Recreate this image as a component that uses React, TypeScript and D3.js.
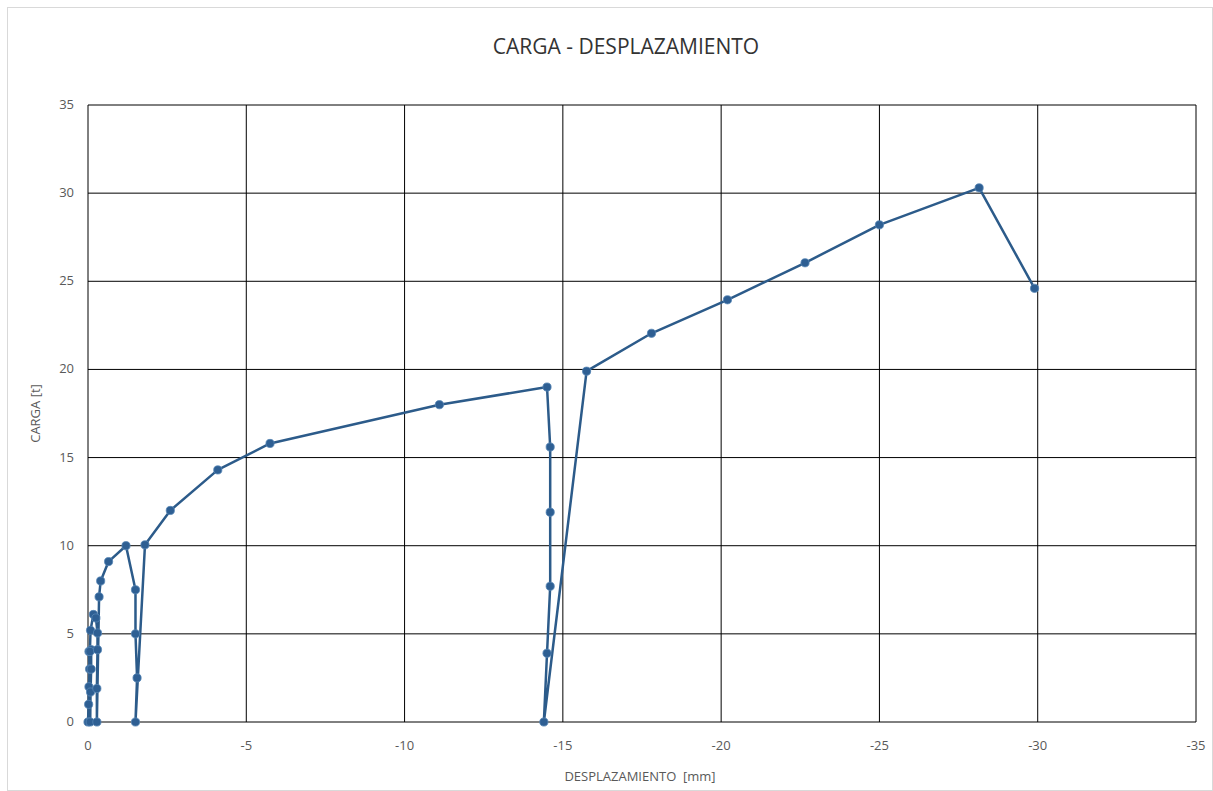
import React from "react";
import * as d3 from "d3";

const displacement: number[] = [
  0, -0.02, -0.03, -0.05, -0.03,
  -0.1, -0.1, -0.08, -0.07,
  -0.06, -0.08, -0.17,
  -0.25, -0.3, -0.3, -0.28, -0.28,
  -0.35, -0.4, -0.65, -1.2,
  -1.5, -1.5, -1.55, -1.5,
  -1.8, -2.6, -4.1, -5.75, -11.1, -14.5,
  -14.6, -14.6, -14.6, -14.5, -14.4,
  -15.75, -17.8, -20.2, -22.65, -25.0, -28.15, -29.9,
];
const load: number[] = [
  0, 1.0, 2.0, 3.0, 4.0,
  4.1, 3.0, 1.7, 0,
  4.0, 5.2, 6.1,
  5.9, 5.05, 4.1, 1.9, 0,
  7.1, 8.0, 9.1, 10.0,
  7.5, 5.0, 2.5, 0,
  10.05, 12.0, 14.3, 15.8, 18.0, 19.0,
  15.6, 11.9, 7.7, 3.9, 0,
  19.9, 22.05, 23.95, 26.05, 28.2, 30.3, 24.6,
];
const xTicks: number[] = [0, -5, -10, -15, -20, -25, -30, -35];
const yTicks: number[] = [0, 5, 10, 15, 20, 25, 30, 35];

const W = 1213;
const H = 791;
const left = 88;
const right = 1196;
const top = 105;
const bottom = 722;

export default function App() {
  const x = d3.scaleLinear().domain([0, -35]).range([left, right]);
  const y = d3.scaleLinear().domain([0, 35]).range([bottom, top]);
  const pts = displacement.map((d, i) => [d, load[i]] as [number, number]);
  const line = d3
    .line<[number, number]>()
    .x((d) => x(d[0]))
    .y((d) => y(d[1]));
  const font = "'Liberation Sans Narrow', 'Open Sans', sans-serif";
  return (
    <svg
      width={W}
      height={H}
      style={{ position: "absolute", left: 0, top: 0, background: "#fff" }}
    >
      <rect x={7.5} y={7.5} width={W - 8} height={H - 8} fill="#fff" stroke="#d9d9d9" />
      <text
        x={626}
        y={54}
        textAnchor="middle"
        fontFamily={font}
        fontSize={21}
        fill="#333"
      >
        CARGA - DESPLAZAMIENTO
      </text>
      {xTicks.map((t) => (
        <line key={"gx" + t} x1={x(t)} x2={x(t)} y1={top} y2={bottom} stroke="#000" strokeWidth={1} />
      ))}
      {yTicks.map((t) => (
        <line key={"gy" + t} x1={left} x2={right} y1={y(t)} y2={y(t)} stroke="#000" strokeWidth={1} />
      ))}
      {xTicks.map((t) => (
        <text key={"tx" + t} x={x(t)} y={750} textAnchor="middle" fontFamily={font} fontSize={13} fill="#595959">
          {t}
        </text>
      ))}
      {yTicks.map((t) => (
        <text key={"ty" + t} x={74} y={y(t) + 4} textAnchor="end" fontFamily={font} fontSize={13} fill="#595959">
          {t}
        </text>
      ))}
      <text x={640} y={781} textAnchor="middle" fontFamily={font} fontSize={13} fill="#595959" style={{ whiteSpace: "pre" }}>
        {"DESPLAZAMIENTO  [mm]"}
      </text>
      <text
        transform={`translate(40,${(top + bottom) / 2}) rotate(-90)`}
        textAnchor="middle"
        fontFamily={font}
        fontSize={13}
        fill="#595959"
      >
        CARGA [t]
      </text>
      <path d={line(pts) || ""} fill="none" stroke="#2c5b8a" strokeWidth={2.5} strokeLinejoin="round" />
      {pts.map((p, i) => (
        <circle key={i} cx={x(p[0])} cy={y(p[1])} r={4.1} fill="#2e5f93" stroke="#5585b5" strokeWidth={0.8} />
      ))}
    </svg>
  );
}
